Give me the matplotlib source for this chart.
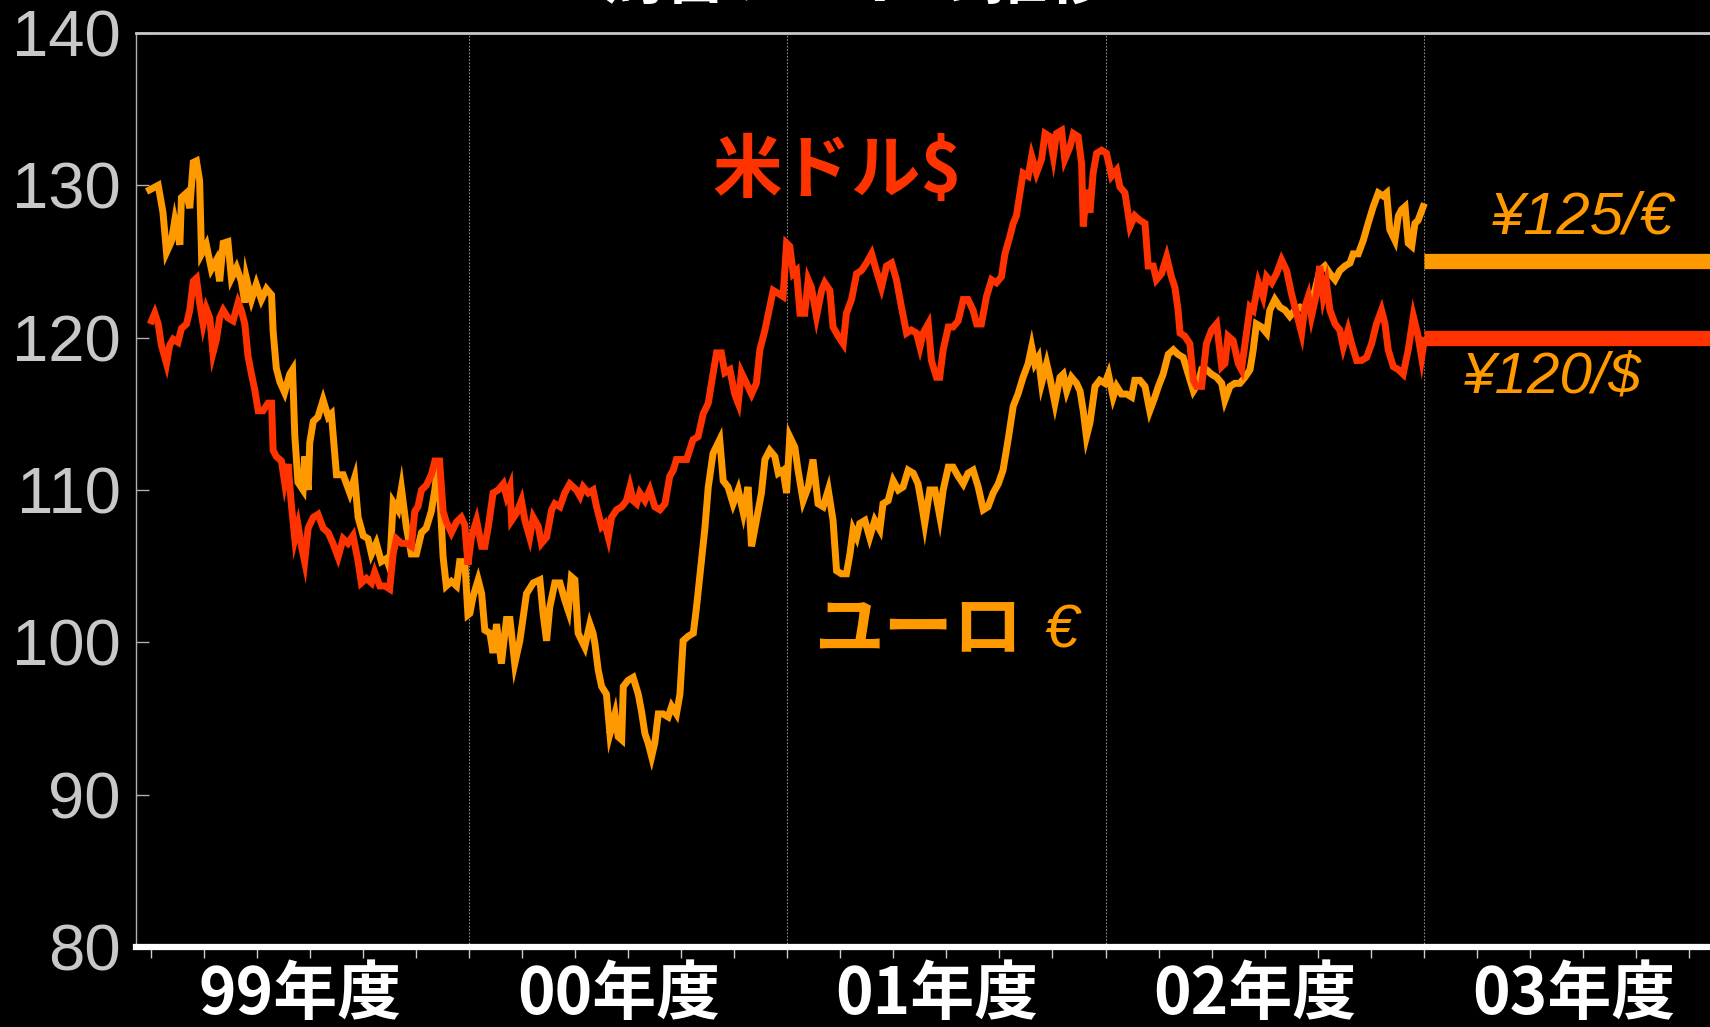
import numpy as np
import matplotlib
matplotlib.use("Agg")
import matplotlib.pyplot as plt

# Fiscal-year axis: 1999.0 = start of FY1999 (April 1999)
usd_t = [
    1999.003, 1999.013, 1999.024, 1999.034, 1999.050, 1999.060, 1999.071, 1999.086, 1999.097, 1999.113,
    1999.123, 1999.134, 1999.144, 1999.154, 1999.165, 1999.175, 1999.186, 1999.196, 1999.207, 1999.217,
    1999.228, 1999.243, 1999.259, 1999.275, 1999.285, 1999.296, 1999.306, 1999.317, 1999.327, 1999.338,
    1999.353, 1999.369, 1999.380, 1999.385, 1999.395, 1999.411, 1999.421, 1999.432, 1999.442, 1999.453,
    1999.463, 1999.474, 1999.484, 1999.495, 1999.511, 1999.526, 1999.542, 1999.558, 1999.573, 1999.589,
    1999.605, 1999.620, 1999.636, 1999.652, 1999.662, 1999.678, 1999.694, 1999.704, 1999.720, 1999.736,
    1999.751, 1999.762, 1999.772, 1999.788, 1999.804, 1999.819, 1999.830, 1999.840, 1999.851, 1999.866,
    1999.882, 1999.893, 1999.908, 1999.919, 1999.929, 1999.945, 1999.961, 1999.976, 1999.987, 1999.997,
    2000.008, 2000.024, 2000.040, 2000.050, 2000.061, 2000.076, 2000.092, 2000.108, 2000.118, 2000.129,
    2000.134, 2000.150, 2000.165, 2000.176, 2000.191, 2000.202, 2000.218, 2000.228, 2000.244, 2000.260,
    2000.270, 2000.286, 2000.301, 2000.317, 2000.338, 2000.349, 2000.359, 2000.375, 2000.390, 2000.401,
    2000.417, 2000.427, 2000.438, 2000.448, 2000.464, 2000.480, 2000.495, 2000.506, 2000.516, 2000.527,
    2000.537, 2000.553, 2000.568, 2000.584, 2000.600, 2000.616, 2000.631, 2000.642, 2000.652, 2000.668,
    2000.684,
    2000.704, 2000.720, 2000.736, 2000.752, 2000.762, 2000.778, 2000.793, 2000.804, 2000.820, 2000.835,
    2000.846, 2000.856, 2000.872, 2000.888, 2000.903, 2000.914, 2000.930, 2000.945, 2000.956, 2000.972,
    2000.987, 2000.998, 2001.008, 2001.019, 2001.029, 2001.040, 2001.055, 2001.066, 2001.076, 2001.092,
    2001.108, 2001.118, 2001.134, 2001.144, 2001.160, 2001.176, 2001.186, 2001.202, 2001.218, 2001.233,
    2001.249, 2001.265, 2001.280, 2001.296, 2001.312, 2001.328, 2001.343, 2001.359, 2001.375, 2001.390,
    2001.406, 2001.417, 2001.427, 2001.443, 2001.453, 2001.469, 2001.479, 2001.490, 2001.506, 2001.521,
    2001.537, 2001.553, 2001.568, 2001.584, 2001.595, 2001.610, 2001.626, 2001.642, 2001.657, 2001.673,
    2001.684, 2001.699, 2001.710, 2001.720,
    2001.741, 2001.757, 2001.768, 2001.783, 2001.799, 2001.810, 2001.825, 2001.836, 2001.846, 2001.862,
    2001.872, 2001.888, 2001.899, 2001.914, 2001.925, 2001.930, 2001.940, 2001.951, 2001.961, 2001.972,
    2001.988, 2002.003, 2002.019, 2002.035, 2002.045, 2002.061, 2002.077, 2002.092, 2002.108, 2002.124,
    2002.134, 2002.150, 2002.160, 2002.176, 2002.192, 2002.207, 2002.218, 2002.228, 2002.234, 2002.249,
    2002.265, 2002.276, 2002.286, 2002.302, 2002.317, 2002.333, 2002.349, 2002.365, 2002.375, 2002.385,
    2002.401, 2002.417, 2002.427, 2002.443, 2002.454, 2002.464, 2002.480, 2002.495, 2002.506, 2002.522,
    2002.537, 2002.553, 2002.569, 2002.584, 2002.600, 2002.616, 2002.626, 2002.637, 2002.647, 2002.663,
    2002.673, 2002.684, 2002.694, 2002.705, 2002.721, 2002.736, 2002.747, 2002.762, 2002.773, 2002.789,
    2002.804, 2002.820, 2002.836, 2002.851, 2002.867, 2002.878, 2002.888, 2002.904, 2002.920, 2002.935,
    2002.951, 2002.967, 2002.982, 2002.993, 2003.001,
]
usd_v = [
    121.1, 121.6, 120.9, 119.5, 118.3, 119.5, 119.9, 119.7, 120.6, 120.9,
    121.8, 123.7, 123.9, 122.3, 120.9, 121.9, 121.3, 119.0, 119.9, 121.3,
    121.8, 121.3, 121.1, 122.3, 121.8, 120.9, 118.8, 117.6, 116.6, 115.2,
    115.2, 115.7, 115.7, 112.6, 112.2, 111.9, 110.5, 111.7, 109.1, 106.8,
    107.7, 106.3, 105.3, 107.5, 108.2, 108.4, 107.5, 107.2, 106.5, 105.6,
    106.8, 106.5, 107.0, 105.3, 103.9, 104.2, 103.9, 104.6, 103.7, 103.7,
    103.5, 105.8, 106.8, 106.5, 106.5, 106.3, 108.6, 108.9, 110.0, 110.3,
    111.0, 111.9, 111.9, 108.6, 107.9, 107.2, 107.9, 108.2, 107.7, 105.1,
    106.9, 108.0, 106.3, 106.3, 107.6, 109.8, 110.0, 110.4, 109.6, 110.2,
    108.0, 108.5, 109.3, 108.0, 106.9, 108.2, 107.6, 106.5, 106.9, 108.7,
    109.1, 108.9, 109.8, 110.4, 110.0, 109.6, 110.2, 109.8, 110.0, 108.9,
    107.6, 107.8, 106.9, 108.2, 108.7, 108.9, 109.3, 110.2, 109.3, 109.1,
    109.8, 109.3, 110.0, 108.9, 108.7, 109.1, 110.9, 111.3, 112.0, 112.0,
    112.0,
    113.3, 113.5, 115.0, 115.7, 117.0, 119.0, 119.0, 117.7, 117.9, 116.3,
    115.7, 117.7, 117.0, 116.3, 117.0, 119.2, 120.5, 122.0, 123.1, 122.9,
    122.7, 126.2, 126.0, 124.2, 124.4, 121.6, 121.6, 123.8, 123.3, 121.4,
    123.1, 123.6, 123.1, 120.7, 120.1, 119.6, 121.6, 122.5, 124.2, 124.4,
    124.9, 125.5, 124.4, 123.3, 124.7, 124.9, 123.8, 122.0, 120.3, 120.5,
    120.3, 119.4, 120.3, 120.9, 118.5, 117.4, 117.4, 119.2, 120.7, 120.7,
    121.1, 122.5, 122.5, 121.8, 120.9, 120.9, 122.7, 123.8, 123.6, 124.0,
    125.5, 126.6, 127.5, 128.0,
    130.8, 130.6, 131.9, 130.8, 131.7, 133.4, 133.2, 131.9, 133.4, 133.6,
    131.7, 132.5, 133.4, 133.2, 131.4, 127.3, 129.7, 128.2, 130.8, 132.1,
    132.3, 132.1, 130.6, 131.0, 129.9, 129.5, 127.3, 128.0, 127.7, 127.5,
    124.7, 124.7, 123.8, 124.2, 125.3, 124.0, 123.3, 121.8, 120.3, 120.1,
    119.6, 117.2, 116.8, 116.8, 119.6, 120.5, 120.9, 118.1, 118.3, 120.1,
    119.8, 118.3, 117.9, 120.3, 122.0, 121.8, 123.6, 122.7, 124.0, 123.6,
    124.2, 125.1, 124.4, 122.9, 121.6, 120.3, 122.0, 122.7, 121.4, 122.9,
    124.7, 122.7, 123.6, 121.8, 120.9, 120.5, 119.4, 120.5, 119.6, 118.5,
    118.5, 118.7, 119.6, 120.9, 121.8, 120.9, 119.2, 118.1, 117.9, 117.6,
    119.2, 121.4, 120.1, 118.7, 119.8,
]

eur_t = [
    1998.997, 1999.024, 1999.039, 1999.050, 1999.065, 1999.076, 1999.092, 1999.097, 1999.113, 1999.123,
    1999.134, 1999.144, 1999.154, 1999.160, 1999.175, 1999.191, 1999.207, 1999.217, 1999.228, 1999.243,
    1999.254, 1999.270, 1999.285, 1999.296, 1999.301, 1999.317, 1999.332, 1999.348, 1999.364, 1999.380,
    1999.385, 1999.395, 1999.406, 1999.421, 1999.437, 1999.446, 1999.453, 1999.463, 1999.479, 1999.484,
    1999.495, 1999.500, 1999.511, 1999.526, 1999.542, 1999.558, 1999.568, 1999.584, 1999.605, 1999.626,
    1999.641, 1999.652, 1999.668, 1999.683, 1999.694, 1999.709, 1999.725, 1999.741, 1999.751, 1999.762,
    1999.777, 1999.788, 1999.804, 1999.819, 1999.835, 1999.851, 1999.866, 1999.882, 1999.893, 1999.903,
    1999.919, 1999.929, 1999.945, 1999.961, 1999.971, 1999.987, 1999.997,
    2000.003, 2000.013, 2000.029, 2000.040, 2000.050, 2000.066, 2000.076, 2000.087, 2000.102, 2000.118,
    2000.129, 2000.144, 2000.160, 2000.171, 2000.181, 2000.202, 2000.223, 2000.233, 2000.244, 2000.254,
    2000.270, 2000.286, 2000.301, 2000.312, 2000.322, 2000.333, 2000.343, 2000.364, 2000.380, 2000.390,
    2000.396, 2000.406, 2000.417, 2000.432, 2000.443, 2000.459, 2000.469, 2000.480, 2000.485, 2000.500,
    2000.516, 2000.532, 2000.542, 2000.553, 2000.563, 2000.574, 2000.584, 2000.595, 2000.610, 2000.626,
    2000.637, 2000.652, 2000.663, 2000.673, 2000.689, 2000.705, 2000.715,
    2000.741, 2000.752, 2000.767, 2000.788, 2000.799, 2000.814, 2000.830, 2000.846, 2000.862, 2000.877,
    2000.888, 2000.903, 2000.919, 2000.930, 2000.945, 2000.961, 2000.972, 2000.987, 2000.998, 2001.008,
    2001.024, 2001.034, 2001.050, 2001.066, 2001.081, 2001.097, 2001.113, 2001.129, 2001.144, 2001.155,
    2001.170, 2001.186, 2001.197, 2001.207, 2001.218, 2001.228, 2001.244, 2001.259, 2001.275, 2001.291,
    2001.301, 2001.317, 2001.333, 2001.349, 2001.364, 2001.380, 2001.396, 2001.411, 2001.422, 2001.432,
    2001.448, 2001.464, 2001.479, 2001.490, 2001.506, 2001.521, 2001.537, 2001.553, 2001.568, 2001.584,
    2001.600, 2001.616, 2001.631, 2001.647, 2001.663, 2001.678, 2001.694, 2001.710, 2001.725,
    2001.741, 2001.757, 2001.768, 2001.778, 2001.789, 2001.799, 2001.815, 2001.825, 2001.841, 2001.857,
    2001.867, 2001.878, 2001.893, 2001.909, 2001.920, 2001.930, 2001.940, 2001.951, 2001.967, 2001.982,
    2001.998, 2002.009, 2002.024, 2002.035, 2002.050, 2002.066, 2002.082, 2002.092, 2002.108, 2002.124,
    2002.139, 2002.155, 2002.166, 2002.181, 2002.197, 2002.213, 2002.228, 2002.244, 2002.260, 2002.276,
    2002.291, 2002.302, 2002.317, 2002.333, 2002.349, 2002.365, 2002.375, 2002.391, 2002.406, 2002.422,
    2002.438, 2002.454, 2002.464, 2002.474, 2002.490, 2002.506, 2002.516, 2002.532, 2002.548, 2002.564,
    2002.579, 2002.595, 2002.611, 2002.626, 2002.642, 2002.658, 2002.673, 2002.689, 2002.705, 2002.721,
    2002.736, 2002.752, 2002.768, 2002.778, 2002.794, 2002.810, 2002.825, 2002.841, 2002.857, 2002.872,
    2002.883, 2002.893, 2002.909, 2002.920, 2002.930, 2002.941, 2002.951, 2002.962, 2002.972, 2002.982,
    2002.998,
]
eur_v = [
    129.7, 130.0, 128.2, 125.6, 126.3, 127.7, 126.1, 129.2, 129.5, 128.5,
    131.5, 131.6, 130.3, 125.5, 126.1, 124.5, 125.1, 123.7, 126.2, 126.3,
    123.9, 124.6, 123.7, 122.3, 123.9, 122.5, 123.5, 122.5, 123.2, 122.8,
    120.4, 118.0, 117.1, 116.4, 117.6, 117.9, 113.6, 110.5, 110.0, 112.2,
    110.0, 113.1, 114.5, 114.8, 115.9, 114.8, 115.0, 111.0, 111.0, 109.8,
    110.8, 108.2, 107.0, 106.8, 105.8, 106.5, 105.3, 105.5, 104.9, 109.2,
    108.7, 110.1, 107.5, 105.8, 105.8, 107.2, 107.5, 108.6, 110.0, 111.9,
    105.6, 103.7, 104.0, 103.7, 105.3, 105.3, 101.8,
    101.9, 103.0, 104.1, 103.2, 100.8, 100.6, 99.3, 101.2, 98.6, 101.5,
    101.5, 98.6, 100.1, 101.7, 103.2, 103.9, 104.1, 101.9, 100.1, 102.3,
    103.9, 103.9, 102.8, 102.1, 104.3, 104.1, 100.6, 99.7, 101.2, 100.6,
    99.9, 98.2, 97.1, 96.6, 94.0, 95.3, 93.8, 93.6, 97.1, 97.5,
    97.7, 96.6, 95.5, 94.0, 93.4, 92.5, 93.4, 95.3, 95.3, 95.1,
    95.8, 95.3, 96.6, 100.1, 100.4, 100.6, 102.3,
    107.4, 110.2, 112.4, 113.3, 110.6, 110.2, 109.1, 110.0, 108.5, 110.2,
    106.3, 108.0, 109.8, 112.0, 112.6, 112.2, 111.1, 111.3, 109.8, 113.5,
    112.8, 111.3, 109.3, 110.2, 112.0, 109.1, 108.9, 110.0, 108.0, 104.7,
    104.5, 104.5, 105.8, 107.4, 106.9, 107.8, 108.0, 106.9, 108.0, 107.4,
    109.1, 109.3, 110.6, 110.0, 110.2, 111.3, 111.1, 110.4, 109.1, 107.8,
    110.0, 110.0, 108.3, 110.0, 111.5, 111.5, 110.9, 110.4, 111.1, 111.3,
    110.2, 108.7, 108.9, 109.8, 110.4, 111.3, 113.3, 115.5, 116.3,
    117.4, 118.3, 119.4, 118.3, 118.7, 117.0, 118.3, 117.4, 115.7, 117.4,
    117.6, 116.5, 117.4, 117.0, 116.5, 115.2, 113.5, 114.4, 116.8, 117.2,
    117.0, 117.6, 116.1, 116.8, 116.3, 116.3, 116.1, 117.2, 117.2, 116.8,
    115.2, 116.1, 116.8, 117.6, 118.9, 119.2, 118.9, 118.7, 117.6, 116.5,
    117.0, 117.9, 117.9, 117.6, 117.4, 117.0, 115.9, 116.8, 117.0, 117.0,
    117.4, 117.9, 119.2, 120.9, 120.7, 120.3, 121.8, 122.5, 122.0, 121.8,
    121.4, 121.8, 122.0, 121.8, 122.2, 123.1, 124.4, 124.7, 124.2, 123.8,
    124.4, 124.7, 124.9, 125.5, 125.5, 126.4, 127.5, 128.6, 129.5, 129.3,
    129.5, 127.1, 126.4, 128.0, 128.4, 128.6, 126.2, 126.0, 127.5, 127.7,
    128.6,
]

usd_target = 120
eur_target = 125

fiscal_years = [1999, 2000, 2001, 2002, 2003]
year_labels = ["99年度", "00年度", "01年度", "02年度", "03年度"]
y_ticks = [80, 90, 100, 110, 120, 130, 140]

USD_COLOR = "#FF3300"
EUR_COLOR = "#FF9900"
CJK = ["Noto Sans CJK JP", "DejaVu Sans"]
LATIN = ["Liberation Sans", "DejaVu Sans"]

fig = plt.figure(figsize=(17.10, 10.27), dpi=100, facecolor="black")
ax = fig.add_axes([0.0795, 0.0779, 0.9205, 0.8900])
ax.set_facecolor("black")
ax.set_xlim(1998.954, 2003.899)
ax.set_ylim(80, 140)

# frame
ax.spines["right"].set_visible(False)
ax.spines["top"].set_color("#c8c8c8")
ax.spines["top"].set_linewidth(2.0)
ax.spines["left"].set_color("#b0b0b0")
ax.spines["left"].set_linewidth(1.0)
ax.spines["bottom"].set_color("white")
ax.spines["bottom"].set_linewidth(4.5)

# fiscal-year boundaries
for fy in fiscal_years[1:]:
    ax.axvline(fy, color="#8a8a8a", lw=0.8, ls=(0, (1.5, 1.5)), zorder=1)

# y axis
ax.set_yticks(y_ticks)
ax.set_yticklabels([str(v) for v in y_ticks], family=LATIN, fontsize=47, color="#c8c8c8")
ax.tick_params(axis="y", direction="in", length=9, width=1, color="#b0b0b0", pad=11)

# x axis: bi-monthly ticks, fiscal-year labels centred on each year
ax.set_xticks(np.arange(fiscal_years[0], fiscal_years[-1] + 0.9, 1 / 6))
ax.set_xticklabels([])
ax.tick_params(axis="x", which="major", direction="out", length=8, width=1, color="#cccccc")
ax.set_xticks([fy + 0.47 for fy in fiscal_years], minor=True)
ax.set_xticklabels(year_labels, minor=True, family=CJK, fontsize=46, fontweight="bold", color="white")
ax.tick_params(axis="x", which="minor", length=0, pad=11)

# exchange-rate series
ax.plot(eur_t, eur_v, color=EUR_COLOR, lw=5.0, solid_joinstyle="miter", zorder=3)
ax.plot(usd_t, usd_v, color=USD_COLOR, lw=5.0, solid_joinstyle="miter", zorder=4)

# assumed rates for the coming fiscal year
ax.hlines(eur_target, fiscal_years[-1], ax.get_xlim()[1], color=EUR_COLOR, lw=11, zorder=3)
ax.hlines(usd_target, fiscal_years[-1], ax.get_xlim()[1], color=USD_COLOR, lw=11, zorder=3)
ax.text(2003.497, 127.85, f"¥{eur_target}/€", family=LATIN, style="italic",
        fontsize=43, color=EUR_COLOR, ha="center", va="center")
ax.text(2003.403, 117.38, f"¥{usd_target}/$", family=LATIN, style="italic",
        fontsize=42, color=EUR_COLOR, ha="center", va="center")

# series names
ax.text(2001.156, 130.87, "米ドル$", family=CJK, fontsize=50, fontweight="bold",
        color=USD_COLOR, ha="center", va="center")
ax.text(2001.411, 100.8, "ユーロ", family=CJK, fontsize=50, fontweight="bold",
        color=EUR_COLOR, ha="center", va="center")
ax.text(2001.862, 100.67, "€", family=LATIN, style="italic", fontsize=44,
        color=EUR_COLOR, ha="center", va="center")

# headline
fig.text(0.5006, 1.002, "為替レートの推移", family=CJK, fontsize=46, fontweight="bold",
         color="white", ha="center", va="baseline")

fig.savefig("out.png", dpi=100, facecolor="black")
